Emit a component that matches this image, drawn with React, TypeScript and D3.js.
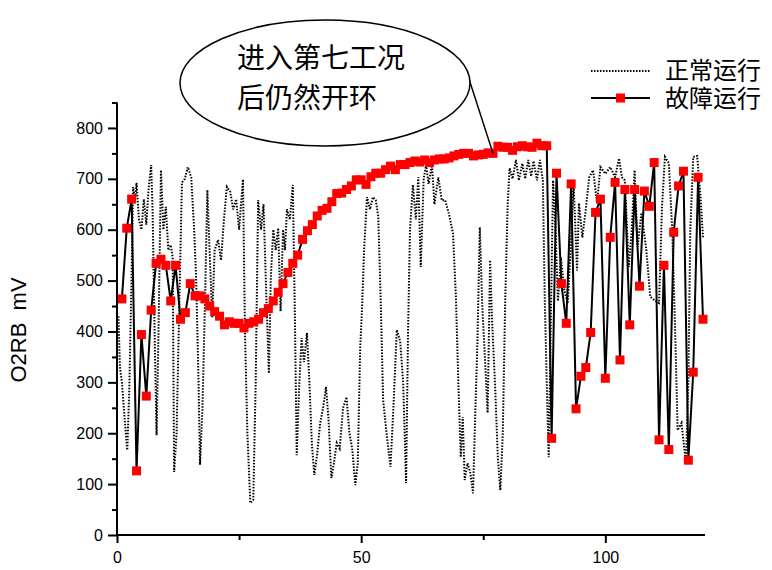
import React, { useEffect, useRef } from "react";
import * as d3 from "d3";

// 故障运行: one reading per sample, samples 1..120
const faultValues = [
  464, 603, 660, 126, 394, 273, 442, 534, 542, 530,
  460, 530, 424, 437, 494, 470, 470, 464, 450, 439,
  430, 413, 419, 416, 416, 407, 416, 419, 424, 437,
  445, 460, 477, 494, 516, 534, 550, 581, 598, 610,
  627, 638, 642, 655, 671, 672, 679, 686, 698, 698,
  689, 704, 711, 711, 718, 725, 718, 728, 728, 732,
  735, 733, 737, 732, 737, 739, 739, 741, 745, 748,
  750, 750, 745, 747, 748, 751, 750, 764, 762, 762,
  756, 763, 765, 763, 762, 770, 765, 765, 190, 711,
  494, 416, 690, 248, 312, 329, 398, 634, 660, 308,
  585, 693, 344, 679, 413, 679, 489, 676, 646, 732,
  187, 530, 168, 595, 686, 715, 147, 320, 703, 424,
];

// 正常运行: dense trace, turning points
const normalX = [
  0.3, 0.6, 1.0, 1.4, 1.8, 2.1, 2.5, 3.0, 3.3, 3.7, 4.0, 4.5, 5.0, 5.5, 6.0, 6.5, 7.0, 7.3, 7.7, 8.1,
  8.5, 9.0, 9.5, 10.0, 10.5, 11.0, 11.4, 11.7, 12.2, 12.7, 13.3, 13.9, 14.5, 15.2, 15.8, 16.2, 16.7, 17.0, 17.5, 18.0,
  18.5, 19.0, 19.5, 20.0, 20.7, 21.3, 21.9, 22.5, 23.2, 23.8, 24.4, 25.0, 25.8, 26.2, 26.7, 27.3, 27.9, 28.4, 28.9, 29.5,
  30.0, 30.6, 31.1, 31.5, 32.0, 32.5, 33.0, 33.5, 34.0, 34.4, 34.8, 35.4, 36.0, 36.4, 36.8, 37.3, 37.8, 38.3, 38.9, 39.4,
  39.9, 40.4, 41.0, 41.6, 42.2, 42.8, 43.3, 43.9, 44.4, 45.0, 45.6, 46.3, 47.0, 47.6, 48.2, 48.8, 49.3, 49.8, 50.2, 50.6,
  51.2, 51.8, 52.4, 53.0, 53.5, 54.0, 54.5, 55.2, 56.0, 56.6, 57.3, 58.0, 58.6, 59.2, 59.6, 60.0, 60.6, 61.2, 61.7, 62.2,
  62.8, 63.3, 63.8, 64.5, 65.0, 65.8, 66.5, 67.2, 68.0, 68.8, 69.4, 69.9, 70.4, 70.8, 71.2, 71.8, 72.4, 72.9, 73.4, 73.8,
  74.3, 74.8, 75.3, 75.9, 76.4, 76.8, 77.4, 78.0, 78.5, 79.0, 79.5, 80.0, 80.4, 81.0, 81.7, 82.3, 83.0, 83.6, 84.2, 84.8,
  85.3, 86.0, 86.6, 87.2, 87.6, 88.0, 88.4, 88.8, 89.3, 89.8, 90.3, 90.9, 91.6, 92.3, 92.9, 93.5, 94.2, 94.6, 95.3, 96.0,
  96.7, 97.5, 98.3, 99.0, 100.0, 101.0, 102.0, 102.8, 103.4, 104.0, 104.8, 105.4, 106.0, 106.6, 107.4, 108.4, 109.2, 110.0, 111.0, 111.6,
  112.2, 113.0, 113.7, 114.3, 114.8, 115.6, 116.5, 117.0, 117.4, 118.0, 118.8, 119.5, 120.0,
];
const normalV = [
  430, 330, 300, 250, 200, 167, 280, 520, 684, 660, 692, 620, 600, 660, 610, 684, 727, 633, 400, 196,
  400, 717, 600, 645, 560, 570, 546, 124, 200, 428, 693, 700, 723, 703, 600, 507, 300, 138, 250, 450,
  678, 550, 428, 560, 580, 540, 620, 684, 674, 640, 660, 600, 699, 400, 200, 63, 69, 300, 658, 600,
  650, 462, 318, 507, 600, 560, 603, 440, 600, 560, 640, 620, 688, 450, 157, 290, 387, 340, 397, 300,
  180, 118, 160, 220, 250, 291, 230, 112, 140, 181, 170, 250, 271, 200, 167, 98, 140, 367, 450, 560,
  664, 640, 664, 658, 625, 462, 265, 200, 134, 250, 403, 380, 300, 102, 400, 600, 688, 620, 703, 527,
  700, 727, 690, 727, 650, 703, 658, 658, 630, 593, 468, 300, 153, 232, 108, 141, 120, 82, 250, 377,
  605, 450, 357, 240, 540, 422, 300, 150, 88, 200, 462, 650, 721, 700, 737, 697, 730, 700, 737, 705,
  735, 697, 737, 697, 462, 300, 153, 400, 697, 600, 460, 546, 480, 456, 560, 692, 520, 652, 585, 640,
  703, 717, 652, 723, 710, 723, 703, 740, 703, 697, 527, 600, 717, 566, 633, 560, 468, 462, 456, 644,
  743, 731, 599, 400, 206, 220, 141, 300, 600, 743, 745, 664, 585,
];

const yMajor = [0, 100, 200, 300, 400, 500, 600, 700, 800];
const yMinor = [50, 150, 250, 350, 450, 550, 650, 750, 850];
const xMajor = [0, 50, 100];
const xMinor = [25, 75];

const noteLines = ["进入第七工况", "后仍然开环"];
const legendLabels = ["正常运行", "故障运行"];
const noteIndex = 77; // sample the callout points to

const latin = "'Liberation Sans', Arial, sans-serif";
const cjk = "'Noto Sans CJK SC', 'Noto Sans', sans-serif";

export default function App() {
  const svgRef = useRef<SVGSVGElement>(null);

  useEffect(() => {
    const svg = d3.select(svgRef.current);
    svg.selectAll("*").remove();

    const x = d3.scaleLinear().domain([0, 120]).range([117, 703]);
    const y = d3.scaleLinear().domain([0, 850]).range([535, 102.5]);

    // normal (dotted) trace
    const normal = normalX.map((d, i) => [d, normalV[i]] as [number, number]);
    svg.append("path")
      .attr("d", d3.line<[number, number]>().x(d => x(d[0])).y(d => y(d[1]))(normal))
      .attr("fill", "none")
      .attr("stroke", "#000")
      .attr("stroke-width", 2)
      .attr("stroke-dasharray", "1.5,1.5");

    // fault series
    const fault = faultValues.map((v, i) => [i + 1, v] as [number, number]);
    svg.append("path")
      .attr("d", d3.line<[number, number]>().x(d => x(d[0])).y(d => y(d[1]))(fault))
      .attr("fill", "none")
      .attr("stroke", "#000")
      .attr("stroke-width", 2);
    svg.selectAll(".mk")
      .data(fault)
      .join("rect")
      .attr("class", "mk")
      .attr("x", d => x(d[0]) - 4.5)
      .attr("y", d => y(d[1]) - 4.5)
      .attr("width", 9)
      .attr("height", 9)
      .attr("fill", "#ff0000");

    // axes
    const gy = svg.append("g").attr("transform", "translate(117,0)");
    gy.call(d3.axisLeft(y).tickValues(yMajor).tickSize(9).tickSizeOuter(0).tickPadding(5));
    gy.call(g => g.selectAll(".tick text").attr("font-size", 16).attr("font-family", latin).attr("fill", "#000"));
    const gym = svg.append("g").attr("transform", "translate(117,0)");
    gym.call(d3.axisLeft(y).tickValues(yMinor).tickSize(5).tickFormat(() => ""));
    gym.select(".domain").remove();

    const gx = svg.append("g").attr("transform", "translate(0,535)");
    gx.call(d3.axisBottom(x).tickValues(xMajor).tickSize(8).tickSizeOuter(0).tickPadding(9));
    gx.call(g => g.selectAll(".tick text").attr("font-size", 16).attr("font-family", latin).attr("fill", "#000"));
    const gxm = svg.append("g").attr("transform", "translate(0,535)");
    gxm.call(d3.axisBottom(x).tickValues(xMinor).tickSize(5).tickFormat(() => ""));
    gxm.select(".domain").remove();

    svg.selectAll(".domain, .tick line").attr("stroke", "#000").attr("stroke-width", 2);
    gx.select(".domain").attr("d", "M116,0H705");
    gy.select(".domain").attr("d", "M0,536V102.5");

    // y title
    svg.append("text")
      .attr("transform", "translate(26,330) rotate(-90)")
      .attr("text-anchor", "middle")
      .attr("font-family", latin)
      .attr("font-size", 22)
      .style("white-space", "pre")
      .text("O2RB  mV");

    // callout
    svg.append("line")
      .attr("x1", 469).attr("y1", 79)
      .attr("x2", x(noteIndex)).attr("y2", y(faultValues[noteIndex - 1]))
      .attr("stroke", "#000").attr("stroke-width", 1.5);
    svg.append("ellipse")
      .attr("cx", 325).attr("cy", 83).attr("rx", 145).attr("ry", 63)
      .attr("fill", "#fff").attr("stroke", "#000").attr("stroke-width", 1.5);
    svg.selectAll(".note")
      .data(noteLines)
      .join("text")
      .attr("class", "note")
      .attr("x", 237)
      .attr("y", (d, i) => 68 + i * 40)
      .attr("font-family", cjk)
      .attr("font-size", 28)
      .text(d => d);

    // legend
    const lg = svg.append("g");
    lg.append("line").attr("x1", 591).attr("x2", 650).attr("y1", 71).attr("y2", 71)
      .attr("stroke", "#000").attr("stroke-width", 2).attr("stroke-dasharray", "1.5,1.5");
    lg.append("line").attr("x1", 591).attr("x2", 650).attr("y1", 98).attr("y2", 98)
      .attr("stroke", "#000").attr("stroke-width", 2);
    lg.append("rect").attr("x", 616).attr("y", 93.5).attr("width", 9).attr("height", 9).attr("fill", "#ff0000");
    lg.selectAll(".lt")
      .data(legendLabels)
      .join("text")
      .attr("class", "lt")
      .attr("x", 665)
      .attr("y", (d, i) => 79 + i * 28)
      .attr("font-family", cjk)
      .attr("font-size", 24)
      .text(d => d);
  }, []);

  return (
    <svg
      ref={svgRef}
      width={772}
      height={570}
      style={{ position: "absolute", left: 0, top: 0, background: "#fff" }}
    />
  );
}
